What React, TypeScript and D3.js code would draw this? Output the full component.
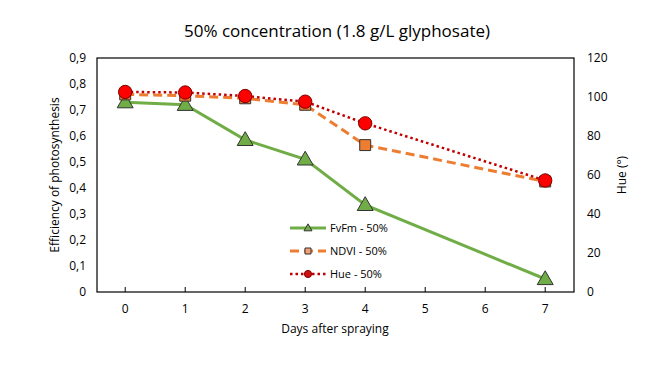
import React, { useEffect, useRef } from "react";
import * as d3 from "d3";

const days = [0, 1, 2, 3, 4, 7];
const fvfm = [0.73, 0.72, 0.585, 0.51, 0.335, 0.05];
const ndvi = [0.76, 0.755, 0.745, 0.72, 0.565, 0.425];
const hue = [102.6, 102.3, 100.5, 97.6, 86.5, 57.2];
const xTicks = [0, 1, 2, 3, 4, 5, 6, 7];
const leftTicks = [0, 0.1, 0.2, 0.3, 0.4, 0.5, 0.6, 0.7, 0.8, 0.9];
const rightTicks = [0, 20, 40, 60, 80, 100, 120];

export default function App() {
  const svgRef = useRef<SVGSVGElement>(null);

  useEffect(() => {
    const width = 664;
    const height = 385;
    const svg = d3.select(svgRef.current).attr("width", width).attr("height", height);
    svg.selectAll("*").remove();

    const left = 97, right = 574, top = 58, bottom = 292;
    const font = "'Open Sans', sans-serif";

    const x = d3.scaleLinear().domain([-0.47, 7.48]).range([left, right]);
    const yL = d3.scaleLinear().domain([0, 0.9]).range([bottom, top]);
    const yR = d3.scaleLinear().domain([0, 120]).range([bottom, top]);

    svg.append("rect").attr("width", width).attr("height", height).attr("fill", "#fff");

    svg.append("text")
      .attr("x", 337).attr("y", 37)
      .attr("text-anchor", "middle")
      .style("font-family", font).style("font-size", "17px").attr("fill", "#000")
      .text("50% concentration (1.8 g/L glyphosate)");

    svg.append("rect")
      .attr("x", left).attr("y", top)
      .attr("width", right - left).attr("height", bottom - top)
      .attr("fill", "none").attr("stroke", "#000").attr("stroke-width", 1.2);

    // x ticks (inside, upward)
    svg.append("g").selectAll("line").data(xTicks).enter().append("line")
      .attr("x1", (d) => x(d)).attr("x2", (d) => x(d))
      .attr("y1", bottom).attr("y2", bottom - 5)
      .attr("stroke", "#000");

    const tickText = (g: d3.Selection<SVGGElement, unknown, null, undefined>) =>
      g.selectAll("text").style("font-family", font).style("font-size", "12px").attr("fill", "#000");

    svg.append("g").selectAll("text").data(xTicks).enter().append("text")
      .attr("x", (d) => x(d)).attr("y", bottom + 21)
      .attr("text-anchor", "middle").text((d) => String(d));

    svg.append("g").attr("class", "yl").selectAll("text").data(leftTicks).enter().append("text")
      .attr("x", 86).attr("y", (d) => yL(d) + 4)
      .attr("text-anchor", "end")
      .text((d) => (d === 0 ? "0" : d3.format(".1f")(d).replace(".", ",")));

    svg.append("g").selectAll("text").data(rightTicks).enter().append("text")
      .attr("x", 587).attr("y", (d) => yR(d) + 4)
      .attr("text-anchor", "start").text((d) => String(d));

    svg.selectAll("g").each(function () {
      tickText(d3.select(this as SVGGElement));
    });

    svg.append("text")
      .attr("transform", `translate(59, ${(top + bottom) / 2}) rotate(-90)`)
      .attr("text-anchor", "middle")
      .style("font-family", font).style("font-size", "12px")
      .text("Efficiency of photosynthesis");

    svg.append("text")
      .attr("transform", `translate(626, ${(top + bottom) / 2}) rotate(-90)`)
      .attr("text-anchor", "middle")
      .style("font-family", font).style("font-size", "12px")
      .text("Hue (°)");

    svg.append("text")
      .attr("x", 335).attr("y", 333)
      .attr("text-anchor", "middle")
      .style("font-family", font).style("font-size", "12px")
      .text("Days after spraying");

    const series = [
      { name: "FvFm - 50%", vals: fvfm, y: yL, stroke: "#70AD47", width: 3, dash: "", marker: "tri", fill: "#70AD47", lfill: "#70AD47" },
      { name: "NDVI - 50%", vals: ndvi, y: yL, stroke: "#ED7D31", width: 3, dash: "9,5", marker: "sq", fill: "#ED7D31", lfill: "#F0A07A" },
      { name: "Hue - 50%", vals: hue, y: yR, stroke: "#C00000", width: 2.5, dash: "2.5,3", marker: "circ", fill: "#FF0000", lfill: "#D01010" },
    ];

    const sym = (m: string, size: number) =>
      d3.symbol().type(m === "tri" ? d3.symbolTriangle : m === "sq" ? d3.symbolSquare : d3.symbolCircle).size(size)();

    series.forEach((s) => {
      const line = d3.line<number>().x((_, i) => x(days[i])).y((d) => s.y(d));
      svg.append("path")
        .attr("d", line(s.vals))
        .attr("fill", "none")
        .attr("stroke", s.stroke)
        .attr("stroke-width", s.width)
        .attr("stroke-dasharray", s.dash);
    });

    series.forEach((s) => {
      const size = s.marker === "tri" ? 110 : s.marker === "sq" ? 120 : 140;
      svg.append("g").selectAll("path").data(s.vals).enter().append("path")
        .attr("d", sym(s.marker, size))
        .attr("transform", (d, i) => `translate(${x(days[i])},${s.y(d) + (s.marker === "tri" ? 1 : 0)})`)
        .attr("fill", s.fill)
        .attr("stroke", s.marker === "circ" ? "#7B0000" : "#333")
        .attr("stroke-width", 1);
    });

    // legend
    const lg = svg.append("g");
    series.forEach((s, i) => {
      const ly = 228 + i * 23;
      lg.append("line")
        .attr("x1", 290).attr("x2", 326).attr("y1", ly).attr("y2", ly)
        .attr("stroke", s.stroke).attr("stroke-width", s.width).attr("stroke-dasharray", s.dash);
      const size = s.marker === "tri" ? 28 : s.marker === "sq" ? 36 : 40;
      lg.append("path")
        .attr("d", sym(s.marker, size))
        .attr("transform", `translate(308,${ly + (s.marker === "tri" ? 0.5 : 0)})`)
        .attr("fill", s.lfill)
        .attr("stroke", s.marker === "circ" ? "#7B0000" : "#333");
      lg.append("text")
        .attr("x", 330).attr("y", ly + 4)
        .style("font-family", font).style("font-size", "11px")
        .text(s.name);
    });
  }, []);

  return (
    <div>
      <svg ref={svgRef} style={{ display: "block", position: "absolute", left: 0, top: 0 }} />
    </div>
  );
}
